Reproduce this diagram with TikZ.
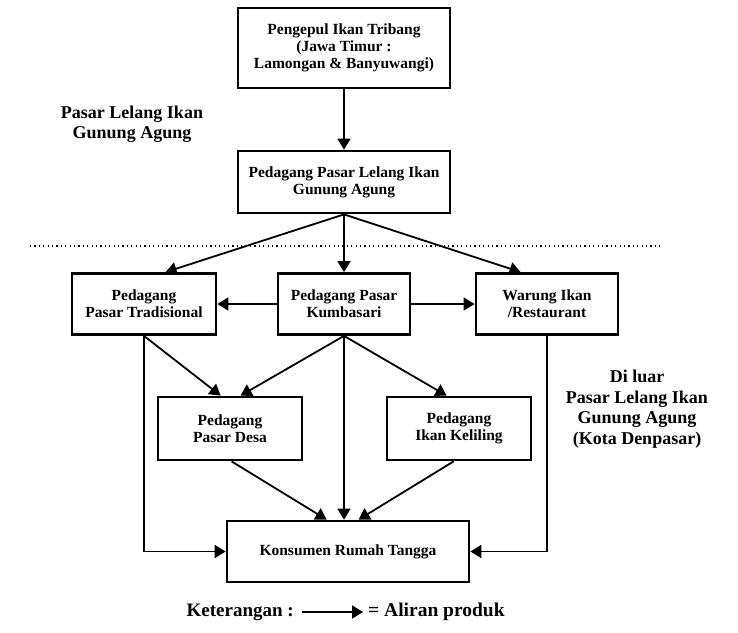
\documentclass[tikz,border=0pt]{standalone}
\usepackage{fontspec}
\setmainfont{Liberation Serif}
\usetikzlibrary{arrows.meta}
\begin{document}
\begin{tikzpicture}[x=1pt,y=-1pt,
  box/.style={draw,line width=2.8pt,align=center,inner sep=0pt,
    font=\bfseries\fontsize{15.5}{17}\selectfont},
  lbl/.style={align=center,inner sep=0pt,font=\bfseries\fontsize{18}{20.5}\selectfont},
  flow/.style={line width=1.8pt,-{Triangle[length=11pt,width=13pt]}}]
\useasboundingbox (0,0) rectangle (738,632);
\fill[white] (0,0) rectangle (738,632);
% boxes
\node[box,minimum width=212pt,minimum height=80pt] (b1) at (344,48)
  {Pengepul Ikan Tribang\\(Jawa Timur :\\Lamongan \& Banyuwangi)};
\node[box,minimum width=212pt,minimum height=62pt] (b2) at (344,182)
  {Pedagang Pasar Lelang Ikan\\Gunung Agung};
\node[box,minimum width=144pt,minimum height=61pt] (pt) at (144,304)
  {Pedagang\\Pasar Tradisional};
\node[box,minimum width=132pt,minimum height=61pt] (k) at (344,304)
  {Pedagang Pasar\\Kumbasari};
\node[box,minimum width=142pt,minimum height=61pt] (w) at (547,304)
  {Warung Ikan\\/Restaurant};
\node[box,minimum width=144pt,minimum height=63pt] (pd) at (230,428.5)
  {Pedagang\\Pasar Desa};
\node[box,minimum width=144pt,minimum height=63pt] (ik) at (459,428.5)
  {Pedagang\\Ikan Keliling};
\node[box,minimum width=242pt,minimum height=61pt] (kr) at (348,551.5)
  {Konsumen Rumah Tangga};
% labels
\node[lbl] (l1) at (132,124) {Pasar Lelang Ikan\\Gunung Agung};
\node[lbl] (l2) at (637,409) {Di luar\\Pasar Lelang Ikan\\Gunung Agung\\(Kota Denpasar)};
% dotted separator
\draw[line width=1.2pt,dash pattern=on 1.2pt off 3.2pt] (30,246) -- (660,246);
% connectors
\draw[flow] (b1.south) -- (b2.north);
\draw[flow] (b2.south) -- ([xshift=95pt]pt.north west);
\draw[flow] (b2.south) -- (k.north);
\draw[flow] (b2.south) -- ([xshift=46pt]w.north west);
\draw[flow] (k.west) -- (pt.east);
\draw[flow] (k.east) -- (w.west);
\draw[flow] (pt.south) |- (kr.west);
\draw[flow] (pt.south) -- ([xshift=64pt]pd.north west);
\draw[flow] (k.south) -- ([xshift=84pt]pd.north west);
\draw[flow] (k.south) -- (k.south |- kr.north);
\draw[flow] (k.south) -- ([xshift=61pt]ik.north west);
\draw[flow] ([xshift=75pt]pd.south west) -- ([xshift=101pt]kr.north west);
\draw[flow] ([xshift=68pt]ik.south west) -- ([xshift=133pt]kr.north west);
\draw[flow] (w.south) |- (kr.east);
% legend
\node[anchor=east,inner sep=0pt,font=\bfseries\fontsize{19}{21}\selectfont] (ket) at (294,612) {Keterangan :};
\node[anchor=west,inner sep=0pt,font=\bfseries\fontsize{19.5}{21}\selectfont] (alr) at (368,612) {= Aliran produk};
\coordinate (la) at (302,612);
\coordinate (lb) at (363,612);
\draw[flow] (la) -- (lb);
\end{tikzpicture}
\end{document}
